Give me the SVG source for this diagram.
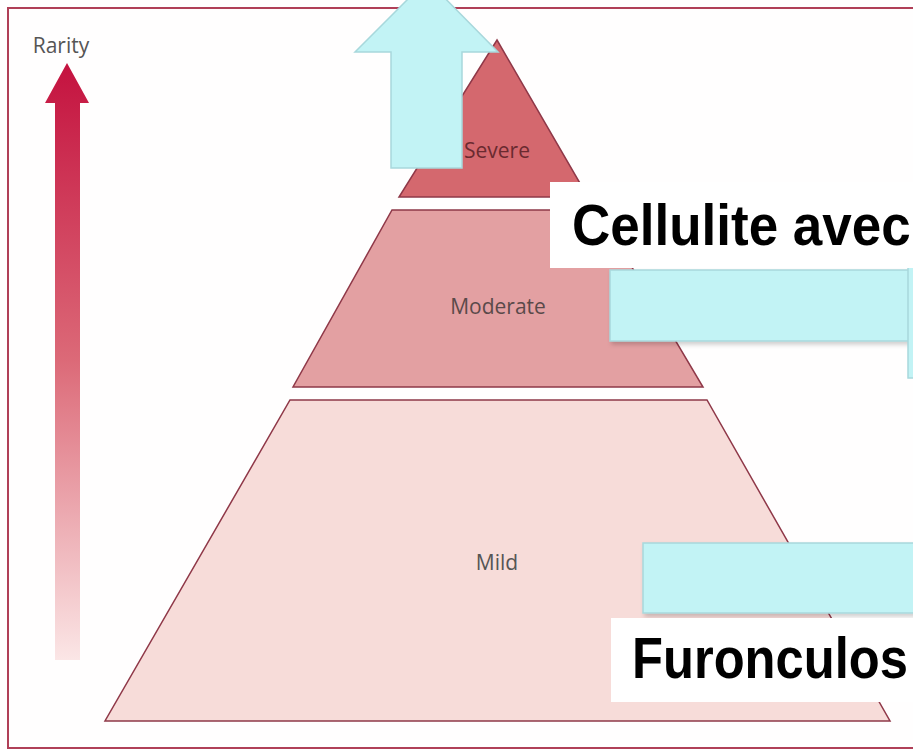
<svg xmlns="http://www.w3.org/2000/svg" width="913" height="752" viewBox="0 0 913 752">
<defs>
<style>
.lvl{font-family:"Open Sans","Liberation Sans",sans-serif;font-size:21px;text-anchor:middle}
.big{font-family:"Liberation Sans",Arial,sans-serif;font-size:53px;font-weight:bold;fill:#000}
.cy{fill:#c2f3f5;stroke:#a8d8dc;stroke-width:1.5}
.wb{fill:#ffffff}
.tier{stroke:#8f3848;stroke-width:1.5}
</style>
<linearGradient id="rg" x1="0" y1="0" x2="0" y2="1">
<stop offset="0" stop-color="#c4123f"/>
<stop offset="0.5" stop-color="#dc6a78"/>
<stop offset="1" stop-color="#fbe6e6"/>
</linearGradient>
<linearGradient id="cg" x1="0" y1="0" x2="0" y2="1">
<stop offset="0" stop-color="#c6f8fa"/>
<stop offset="1" stop-color="#b6e8ec"/>
</linearGradient>
<filter id="sh" x="-5%" y="-5%" width="115%" height="125%">
<feDropShadow dx="2" dy="3" stdDeviation="2" flood-color="#000" flood-opacity="0.18"/>
</filter>
</defs>
<rect x="0" y="0" width="913" height="752" fill="#ffffff"/>
<rect id="frame" x="8" y="8" width="915" height="740" fill="#fffefe" stroke="#b04058" stroke-width="2"/>
<g id="rarity">
<text x="61" y="53" class="lvl" fill="#555">Rarity</text>
<path d="M55,103 H45 L67,63 L89,103 H80 V660 H55 Z" fill="url(#rg)"/>
</g>
<g id="mild">
<polygon class="tier" points="290,400 707,400 890,721 105,721" fill="#f7dcd9"/>
<text x="497" y="570" class="lvl" fill="#555">Mild</text>
</g>
<g id="moderate">
<polygon class="tier" points="392,210 598,210 703,387 293,387" fill="#e3a0a2"/>
<text x="498" y="314" class="lvl" fill="#5a4a4a">Moderate</text>
</g>
<g id="severe">
<polygon class="tier" points="497,40 588,197 399,197" fill="#d4686e"/>
<text x="497" y="158" class="lvl" fill="#6a2a30">Severe</text>
</g>
<g id="connectors">
<path class="cy" d="M391,168 V52 H355 L427,-20 L498,52 H462 V168 Z" fill="url(#cg)"/>
</g>
<g id="cyan-shapes">
<rect class="cy" x="610" y="270" width="310" height="71" filter="url(#sh)" fill="url(#cg)"/>
<rect class="cy" x="908" y="245" width="20" height="133"/>
<rect class="cy" x="643" y="543" width="280" height="70" filter="url(#sh)" fill="url(#cg)"/>
</g>
<g id="label-cellulite">
<rect class="wb" x="550" y="182" width="370" height="86"/>
<text class="big" transform="translate(572,245) scale(1,1.07)">Cellulite avec</text>
</g>
<g id="label-furonculose">
<rect class="wb" x="611" y="618" width="310" height="84"/>
<text class="big" transform="translate(632,678) scale(1,1.07)" textLength="276" lengthAdjust="spacingAndGlyphs">Furonculos</text>
</g>
</svg>
